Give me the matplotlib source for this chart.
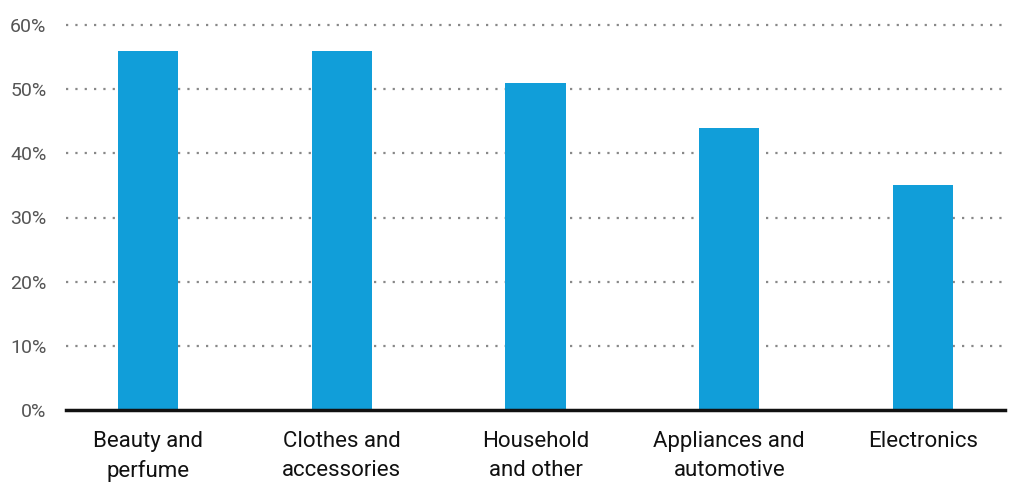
import matplotlib
matplotlib.use("Agg")
import matplotlib.pyplot as plt
from matplotlib import font_manager

categories = ["Beauty and\nperfume", "Clothes and\naccessories", "Household\nand other",
              "Appliances and\nautomotive", "Electronics"]
shares = [56, 56, 51, 44, 35]
y_ticks = [0, 10, 20, 30, 40, 50, 60]
y_tick_labels = [f"{v}%" for v in y_ticks]

names = {f.name for f in font_manager.fontManager.ttflist}
family = ["Liberation Sans Narrow", "DejaVu Sans"] if "Liberation Sans Narrow" in names else ["Roboto", "DejaVu Sans"]
plt.rcParams["font.family"] = family

fig = plt.figure(figsize=(10.11, 4.83), dpi=100)
ax = fig.add_axes([66 / 1011, 73 / 483, (1005 - 66) / 1011, (410 - 25) / 483])

x = range(len(categories))
ax.bar(x, shares, width=0.31, color="#119ed9", zorder=2)

ax.set_ylim(0, 60)
ax.set_xlim(-0.423, len(categories) - 1 + 0.423)
ax.set_yticks(y_ticks)
ax.set_yticklabels(y_tick_labels, color="#555555", fontsize=14)
ax.set_xticks(list(x))
ax.set_xticklabels(categories, fontsize=16, color="#111111", linespacing=1.5)
ax.tick_params(axis="both", length=0)
ax.tick_params(axis="y", pad=14)
ax.tick_params(axis="x", pad=15)

for v in y_ticks[1:]:
    ax.axhline(v, color="#888888", linestyle=(0, (1, 3.2)), linewidth=1.6, zorder=1, clip_on=False)

for s in ["top", "right", "left"]:
    ax.spines[s].set_visible(False)
ax.spines["bottom"].set_linewidth(2.5)
ax.spines["bottom"].set_color("#111111")
ax.spines["bottom"].set_zorder(3)

fig.savefig("out.png", dpi=100)
